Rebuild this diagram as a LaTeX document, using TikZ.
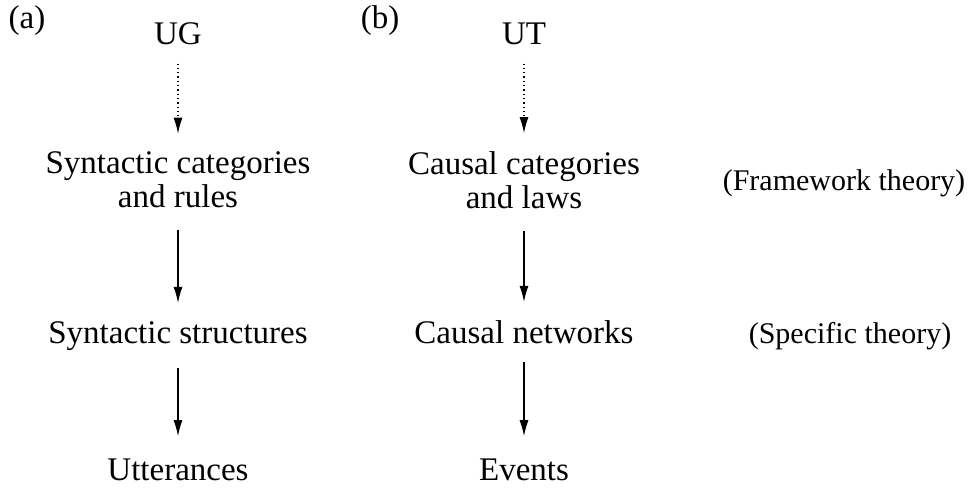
\documentclass[tikz,border=0pt]{standalone}
\usepackage{fontspec}
\setmainfont{Liberation Serif}
\usetikzlibrary{arrows.meta, positioning}

\tikzset{
  lbl/.style={font=\fontsize{33}{34}\selectfont, align=center, inner sep=0pt},
  levellbl/.style={lbl, font=\fontsize{30}{34}\selectfont},
  link/.style={-{Latex[length=16pt,width=9pt]}, line width=1.3pt, shorten <=18pt, shorten >=18pt},
  dotlink/.style={link, dash pattern=on 1.3pt off 3pt}
}

\begin{document}
\begin{tikzpicture}[x=1pt,y=-1pt]
\useasboundingbox (0,0) rectangle (968,495);
% panel labels
\node[lbl, anchor=base] (pa) at (27,29) {(a)};
\node[lbl, anchor=base] (pb) at (380,29) {(b)};
% column (a): language
\node[lbl, anchor=base] (ug) at (178,45) {UG};
\node[lbl] (syncat) at (178,180) {Syntactic categories\\and rules};
\node[lbl, anchor=base] (synstr) at (178,343) {Syntactic structures};
\node[lbl, anchor=base] (utt) at (178,480) {Utterances};
% column (b): causality
\node[lbl, anchor=base] (ut) at (524,45) {UT};
\node[lbl] (caucat) at (524,180) {Causal categories\\and laws};
\node[lbl, anchor=base] (caunet) at (524,343) {Causal networks};
\node[lbl, anchor=base] (ev) at (524,480) {Events};
% levels
\node[levellbl, anchor=base] (frame) at (844,190) {(Framework theory)};
\node[levellbl, anchor=base] (spec) at (850,343) {(Specific theory)};

\draw[dotlink] (ug) -- (syncat);
\draw[link, shorten <=22pt] (syncat) -- (synstr);
\draw[link, shorten >=22pt] (synstr) -- (utt);
\draw[dotlink] (ut) -- (caucat);
\draw[link, shorten <=22pt] (caucat) -- (caunet);
\draw[link, shorten >=22pt] (caunet) -- (ev);
\end{tikzpicture}
\end{document}
